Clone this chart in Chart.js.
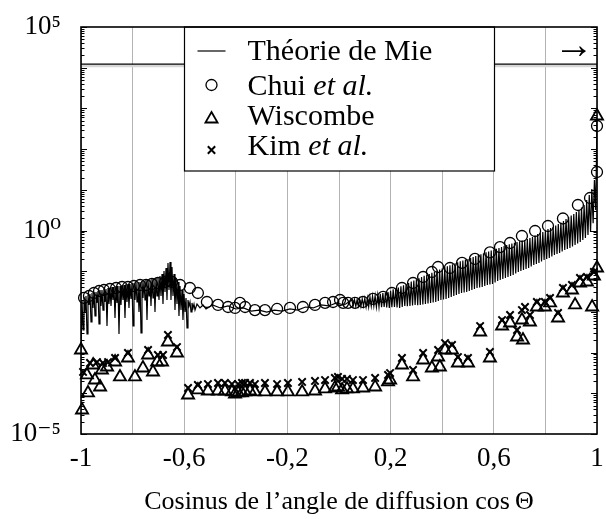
<!DOCTYPE html>
<html><head><meta charset="utf-8">
<script src="https://cdn.jsdelivr.net/npm/chart.js@4.4.1/dist/chart.umd.min.js"></script>
<style>html,body{margin:0;padding:0;background:#fff;}canvas{display:block;}</style>
</head><body>
<canvas id="c" width="606" height="519"></canvas>
<script>
// ---------- axis ticks & labels ----------
const xTickValues = [-1,-0.8,-0.6,-0.4,-0.2,0,0.2,0.4,0.6,0.8,1];
const xLabelValues = [-1,-0.6,-0.2,0.2,0.6,1];
const xLabelTexts = ['-1','-0,6','-0,2','0,2','0,6','1'];
const yLabelValues = [1e-5,1,1e5];
const yLabelTexts = ['10\u207B\u2075','10\u2070','10\u2075'];
const xTitle = 'Cosinus de l\u2019angle de diffusion cos\u2009\u0398';
const seriesLabels = ['Théorie de Mie','Chui et al.','Wiscombe','Kim et al.'];

// ---------- Théorie de Mie ----------
const mieX = [
-1.0000,-0.9961,-0.9922,-0.9884,-0.9845,-0.9806,-0.9767,-0.9729,-0.9690,-0.9651,
-0.9612,-0.9574,-0.9535,-0.9496,-0.9457,-0.9419,-0.9380,-0.9341,-0.9302,-0.9264,
-0.9225,-0.9186,-0.9147,-0.9109,-0.9070,-0.9031,-0.8992,-0.8953,-0.8915,-0.8876,
-0.8837,-0.8798,-0.8760,-0.8721,-0.8682,-0.8643,-0.8605,-0.8566,-0.8527,-0.8488,
-0.8450,-0.8411,-0.8372,-0.8333,-0.8295,-0.8256,-0.8217,-0.8178,-0.8140,-0.8101,
-0.8062,-0.8023,-0.7984,-0.7946,-0.7907,-0.7868,-0.7829,-0.7791,-0.7752,-0.7713,
-0.7674,-0.7636,-0.7597,-0.7558,-0.7519,-0.7481,-0.7442,-0.7403,-0.7364,-0.7326,
-0.7287,-0.7248,-0.7209,-0.7171,-0.7132,-0.7093,-0.7054,-0.7016,-0.6977,-0.6938,
-0.6899,-0.6860,-0.6822,-0.6783,-0.6744,-0.6705,-0.6667,-0.6628,-0.6589,-0.6550,
-0.6512,-0.6473,-0.6434,-0.6395,-0.6357,-0.6318,-0.6279,-0.6240,-0.6202,-0.6163,
-0.6124,-0.6085,-0.6047,-0.6008,-0.5969,-0.5930,-0.5891,-0.5853,-0.5814,-0.5775,
-0.5736,-0.5698,-0.5659,-0.5620,-0.5581,-0.5504,-0.5388,-0.5271,-0.5155,
-0.49,-0.46,-0.43,-0.40,-0.37,-0.34,-0.31,-0.28,-0.25,-0.22,-0.19,-0.16,-0.13,-0.10,-0.07,-0.04,-0.01,0.02,
0.050,0.055,0.060,0.065,0.070,0.075,0.080,0.085,0.090,0.095,
0.100,0.105,0.110,0.115,0.120,0.125,0.130,0.135,0.140,0.145,
0.150,0.155,0.160,0.165,0.170,0.175,0.180,0.185,0.190,0.195,
0.200,0.205,0.210,0.215,0.220,0.225,0.230,0.235,0.240,0.245,
0.250,0.255,0.260,0.265,0.270,0.275,0.280,0.285,0.290,0.295,
0.300,0.305,0.310,0.315,0.320,0.325,0.330,0.335,0.340,0.345,
0.350,0.355,0.360,0.365,0.370,0.375,0.380,0.385,0.390,0.395,
0.400,0.405,0.410,0.415,0.420,0.425,0.430,0.435,0.440,0.445,
0.450,0.455,0.460,0.465,0.470,0.475,0.480,0.485,0.490,0.495,
0.500,0.505,0.510,0.515,0.520,0.525,0.530,0.535,0.540,0.545,
0.550,0.555,0.560,0.565,0.570,0.575,0.580,0.585,0.590,0.595,
0.600,0.605,0.610,0.615,0.620,0.625,0.630,0.635,0.640,0.645,
0.650,0.655,0.660,0.665,0.670,0.675,0.680,0.685,0.690,0.695,
0.700,0.705,0.710,0.715,0.720,0.725,0.730,0.735,0.740,0.745,
0.750,0.755,0.760,0.765,0.770,0.775,0.780,0.785,0.790,0.795,
0.800,0.805,0.810,0.815,0.820,0.825,0.830,0.835,0.840,0.845,
0.850,0.855,0.860,0.865,0.870,0.875,0.880,0.885,0.890,0.895,
0.900,0.905,0.910,0.915,0.920,0.925,0.930,0.935,0.940,0.945,
0.950,0.955,0.960,0.965,0.970,0.975,0.980,0.985,0.990,0.995,
1.000];
const mieY = [
0.00117,0.0196,0.00359,0.0232,0.00995,0.0246,0.00287,0.0260,0.0148,0.0275,
0.00565,0.0291,0.0125,0.0308,0.00793,0.0308,0.0166,0.0326,0.00505,0.0345,
0.0140,0.0345,0.0111,0.0365,0.0175,0.0365,0.00451,0.0387,0.0156,0.0387,
0.0140,0.0409,0.0196,0.0409,0.00709,0.0433,0.0166,0.0433,0.00287,0.0433,
0.0148,0.0458,0.0196,0.0458,0.00709,0.0485,0.0175,0.0485,0.0125,0.0485,
0.0208,0.0513,0.00451,0.0513,0.0196,0.0543,0.0175,0.0543,0.00995,0.0543,
0.00303,0.0574,0.0220,0.0574,0.0196,0.0608,0.00633,0.0608,0.0246,0.0608,
0.0140,0.0643,0.0220,0.0643,0.00995,0.0681,0.0246,0.0681,0.0196,0.0762,
0.0246,0.0853,0.0156,0.101,0.0308,0.120,0.0196,0.159,0.0345,0.168,
0.0196,0.127,0.0246,0.0853,0.0111,0.0681,0.0156,0.0543,0.00793,0.0433,
0.0111,0.0345,0.00633,0.0275,0.00995,0.0220,0.00402,0.0196,0.0140,0.0175,
0.00995,0.0166,0.0125,0.0156,0.0111,0.0156,0.0125,0.0148,0.0118,
0.0148,0.0125,0.0140,0.0118,0.0125,0.0105,0.0111,0.00994,0.0111,0.0105,0.0118,0.0111,0.0132,0.0125,0.0148,0.0140,0.0166,0.0148,
0.0196,0.0140,0.0200,0.0137,0.0196,0.0140,0.0205,0.0136,0.0208,0.0140,
0.0215,0.0133,0.0220,0.0132,0.0235,0.0138,0.0246,0.0140,0.0252,0.0132,
0.0260,0.0132,0.0280,0.0130,0.0291,0.0132,0.0298,0.0128,0.0308,0.0125,
0.0330,0.0130,0.0360,0.0132,0.0375,0.0128,0.0395,0.0125,0.0425,0.0132,
0.0450,0.0140,0.0480,0.0138,0.0515,0.0140,0.0555,0.0144,0.0590,0.0148,
0.0630,0.0146,0.0670,0.0148,0.0720,0.0152,0.0770,0.0156,0.0810,0.0160,
0.0850,0.0165,0.0910,0.0170,0.0970,0.0175,0.104,0.0185,0.110,0.0196,
0.117,0.0202,0.124,0.0208,0.132,0.0220,0.140,0.0232,0.148,0.0246,
0.157,0.0260,0.166,0.0275,0.175,0.0291,0.182,0.0300,0.190,0.0308,
0.200,0.0326,0.211,0.0345,0.223,0.0365,0.236,0.0387,0.250,0.0398,
0.262,0.0409,0.276,0.0433,0.290,0.0458,0.305,0.0471,0.320,0.0485,
0.338,0.0530,0.355,0.0574,0.372,0.0608,0.390,0.0643,0.415,0.0680,
0.440,0.0720,0.460,0.0760,0.480,0.0806,0.500,0.0880,0.520,0.0956,
0.545,0.101,0.570,0.107,0.584,0.113,0.618,0.120,0.654,0.131,
0.692,0.142,0.754,0.150,0.820,0.159,0.868,0.173,0.918,0.188,
1.00,0.199,1.09,0.211,1.15,0.230,1.22,0.250,1.33,0.265,
1.44,0.280,1.57,0.305,1.71,0.332,1.92,0.352,2.15,0.372,
2.34,0.405,2.54,0.440,2.85,0.480,3.19,0.522,3.67,0.585,
4.23,0.654,5.6,0.780,7.45,0.918,10.5,1.5,17.4,3.19,
581];

// ---------- Chui et al. ----------
const chuiX = [-0.988,-0.969,-0.950,-0.930,-0.911,-0.888,-0.864,-0.841,-0.818,-0.795,-0.771,-0.748,-0.725,-0.702,-0.674,-0.647,-0.616,-0.578,-0.547,-0.512,-0.469,-0.430,-0.403,-0.384,-0.364,-0.326,-0.287,-0.240,-0.190,-0.140,-0.093,-0.054,-0.023,0.004,0.016,0.035,0.062,0.093,0.132,0.171,0.205,0.244,0.287,0.326,0.360,0.384,0.430,0.477,0.527,0.585,0.624,0.663,0.709,0.760,0.810,0.868,0.926,0.973,1.0,1.0];
const chuiY = [0.0220,0.0246,0.0291,0.0326,0.0345,0.0365,0.0387,0.0409,0.0409,0.0433,0.0458,0.0458,0.0485,0.0513,0.0543,0.0543,0.0458,0.0387,0.0291,0.0175,0.0148,0.0132,0.0125,0.0166,0.0132,0.0111,0.0111,0.0118,0.0125,0.0132,0.0148,0.0166,0.0175,0.0196,0.0166,0.0166,0.0166,0.0175,0.0208,0.0233,0.0291,0.0387,0.0513,0.0720,0.0956,0.127,0.120,0.160,0.200,0.290,0.390,0.493,0.733,0.972,1.29,1.97,4.23,6.29,27.4,369];

// ---------- Wiscombe ----------
const wiscX = [-1.0,-0.996,-0.977,-0.973,-0.953,-0.946,-0.926,-0.919,-0.899,-0.868,-0.849,-0.818,-0.791,-0.760,-0.740,-0.721,-0.705,-0.686,-0.663,-0.628,
-0.585,-0.547,-0.508,-0.469,-0.442,-0.415,-0.403,-0.391,-0.376,-0.364,-0.345,-0.326,-0.287,-0.240,-0.198,-0.143,-0.093,-0.054,-0.016,-0.004,0.012,0.031,0.054,0.093,0.140,0.190,
0.198,0.244,0.287,0.326,0.360,0.384,0.391,0.411,0.438,0.461,0.500,0.547,0.585,0.632,0.663,0.690,0.709,0.713,0.740,0.767,0.798,0.818,0.849,0.868,0.903,0.915,0.934,0.961,0.981,0.988,1.0,1.0];
const wiscY = [0.00116,0.0000389,0.000282,0.000102,0.000496,0.000212,0.000143,0.000374,0.000443,0.000587,0.000252,0.000737,0.000252,0.000418,0.000873,0.000334,0.000587,0.000587,0.00182,0.000978,
0.0000908,0.000121,0.000114,0.000114,0.000114,0.000108,0.0000961,0.000102,0.000102,0.000108,0.000114,0.000108,0.000108,0.000108,0.000108,0.000108,0.000114,0.000128,0.000135,0.000143,0.000121,0.000128,0.000128,0.000135,0.000143,0.000190,
0.000212,0.000496,0.000252,0.000658,0.000418,0.000779,0.000443,0.00116,0.00116,0.000555,0.000555,0.00321,0.000737,0.0045,0.00534,0.00242,0.00632,0.00204,0.00565,0.0132,0.0132,0.0166,0.00708,0.0291,0.0345,0.0148,0.0513,0.0543,0.0132,0.0762,0.120,650];

// ---------- Kim et al. ----------
const kimX = [-0.992,-0.965,-0.938,-0.915,-0.895,-0.868,-0.818,-0.740,-0.702,-0.682,-0.663,-0.628,
-0.585,-0.547,-0.508,-0.469,-0.442,-0.415,-0.391,-0.376,-0.364,-0.345,-0.326,-0.287,-0.240,-0.198,-0.143,-0.093,-0.054,-0.016,-0.004,0.012,0.031,0.054,0.093,0.140,0.190,
0.198,0.244,0.287,0.326,0.384,0.411,0.438,0.461,0.500,0.547,0.585,0.632,0.663,0.690,0.709,0.721,0.740,0.767,0.798,0.818,0.849,0.868,0.903,0.934,0.961,0.988];
const kimY = [0.000334,0.000555,0.000587,0.000555,0.000587,0.000737,0.000978,0.00116,0.000873,0.000873,0.00271,0.00137,
0.000135,0.000160,0.000169,0.000179,0.000179,0.000169,0.000169,0.000179,0.000179,0.000179,0.000169,0.000179,0.000169,0.000179,0.000190,0.000201,0.000212,0.000238,0.000252,0.000225,0.000225,0.000212,0.000212,0.000238,0.000282,
0.000315,0.000737,0.000374,0.000978,0.00116,0.00172,0.00154,0.000779,0.000737,0.0045,0.00104,0.00632,0.00839,0.00359,0.0111,0.0132,0.00839,0.0175,0.0175,0.0220,0.0094,0.0387,0.0458,0.0681,0.0720,0.0956];

// ---------- top band ----------
const bandValue = 12300;
const bandShadowValue = 11000;

const pts = (xs, ys) => xs.map((x, i) => ({x: x, y: ys[i]}));
const FONT = "'Liberation Serif', 'DejaVu Serif', serif";

const framePlugin = {
  id: 'frame',
  afterDatasetsDraw(chart) {
    const {ctx, chartArea: a, scales} = chart;
    const xs = scales.x, ys = scales.y;
    ctx.save();
    // arrow annotation in the top band
    ctx.fillStyle = '#000';
    ctx.font = '40px ' + FONT;
    ctx.textAlign = 'center';
    ctx.textBaseline = 'middle';
    ctx.fillText('\u2192', xs.getPixelForValue(0.91), ys.getPixelForValue(30500));
    // legend box
    const L = Math.round(xs.getPixelForValue(-0.6)) + 0.5;
    const R = Math.round(xs.getPixelForValue(0.6)) + 0.5;
    const T = a.top, B = a.top + 144;
    ctx.fillStyle = '#fff';
    ctx.fillRect(L, T, R - L, B - T);
    ctx.strokeStyle = '#000';
    ctx.lineWidth = 1.2;
    ctx.strokeRect(L, T, R - L, B - T);
    const baselines = [33, 68, 98, 128];
    const symY = [24, 58, 92, 123];
    const styles = [null, {pointStyle:'circle', radius:5.5, borderWidth:1.3},
                    {pointStyle:'triangle', radius:7, borderWidth:1.8},
                    {pointStyle:'crossRot', radius:5.2, borderWidth:2}];
    for (let i = 0; i < 4; i++) {
      const sx = L + 27, sy = T + symY[i];
      ctx.strokeStyle = '#000';
      ctx.fillStyle = 'rgba(0,0,0,0)';
      if (i === 0) {
        ctx.lineWidth = 1.2;
        ctx.beginPath(); ctx.moveTo(L + 13, sy); ctx.lineTo(L + 41, sy); ctx.stroke();
      } else {
        ctx.lineWidth = styles[i].borderWidth;
        Chart.helpers.drawPoint(ctx, {pointStyle: styles[i].pointStyle, radius: styles[i].radius, rotation: 0, borderWidth: styles[i].borderWidth}, sx, sy);
      }
      const label = seriesLabels[i];
      const parts = label.endsWith(' et al.') ? [[label.slice(0, -6), 'normal'], ['et al.', 'italic']] : [[label, 'normal']];
      let tx = L + 63;
      ctx.fillStyle = '#000';
      ctx.textAlign = 'left';
      ctx.textBaseline = 'alphabetic';
      for (const [txt, st] of parts) {
        ctx.font = st + ' 30px ' + FONT;
        ctx.fillText(txt, tx, T + baselines[i]);
        tx += ctx.measureText(txt).width;
      }
    }
    ctx.restore();
  },
  afterDraw(chart) {
    const {ctx, chartArea: a, scales} = chart;
    const ys = scales.y;
    ctx.save();
    ctx.strokeStyle = '#000';
    ctx.lineWidth = 1;
    for (let e = -5; e <= 5; e++) {
      for (let m = 1; m <= 9; m++) {
        if (e === 5 && m > 1) break;
        const v = m * Math.pow(10, e);
        const p = Math.round(ys.getPixelForValue(v)) + 0.5;
        const len = m === 1 ? 6 : 3.5;
        ctx.beginPath();
        ctx.moveTo(a.left, p); ctx.lineTo(a.left + len, p);
        ctx.moveTo(a.right, p); ctx.lineTo(a.right - len, p);
        ctx.stroke();
      }
    }
    ctx.lineWidth = 1.6;
    ctx.strokeRect(a.left, a.top, a.right - a.left, a.bottom - a.top);
    ctx.restore();
  }
};

new Chart(document.getElementById('c'), {
  type: 'scatter',
  data: {
    datasets: [
      {label: '_shadow', data: [{x:-1, y:bandShadowValue}, {x:1, y:bandShadowValue}], showLine: true, borderColor: '#d6d6d6', borderWidth: 2.5, pointRadius: 0, order: 10},
      {label: '_band', data: [{x:-1, y:bandValue}, {x:1, y:bandValue}], showLine: true, borderColor: '#000', borderWidth: 1.3, pointRadius: 0, order: 9},
      {label: seriesLabels[0], data: pts(mieX, mieY), showLine: true, borderColor: '#000', borderWidth: 1.2, pointRadius: 0, tension: 0, order: 8},
      {label: seriesLabels[1], data: pts(chuiX, chuiY), pointStyle: 'circle', pointRadius: 5.5, borderColor: '#000', backgroundColor: 'rgba(0,0,0,0)', borderWidth: 1.3, clip: false, order: 3},
      {label: seriesLabels[2], data: pts(wiscX, wiscY), pointStyle: 'triangle', pointRadius: 7, borderColor: '#000', backgroundColor: 'rgba(0,0,0,0)', borderWidth: 1.8, clip: false, order: 2},
      {label: seriesLabels[3], data: pts(kimX, kimY), pointStyle: 'crossRot', pointRadius: 5.2, borderColor: '#000', backgroundColor: 'rgba(0,0,0,0)', borderWidth: 2, clip: false, order: 1}
    ]
  },
  options: {
    responsive: false,
    animation: false,
    devicePixelRatio: 1,
    layout: {padding: {left: 0, right: 9, top: 27, bottom: 0}},
    plugins: {legend: {display: false}, tooltip: {enabled: false}},
    scales: {
      x: {
        type: 'linear', min: -1, max: 1,
        afterBuildTicks: s => { s.ticks = xTickValues.map(v => ({value: v})); },
        afterFit: s => { s.height = 85; s.paddingLeft = 0; s.paddingRight = 0; },
        grid: {color: '#b3b3b3', lineWidth: 1, drawTicks: false},
        border: {display: false},
        ticks: {
          autoSkip: false, maxRotation: 0, padding: 9, color: '#000',
          font: {family: FONT, size: 27},
          callback: v => { const i = xLabelValues.findIndex(d => Math.abs(d - v) < 1e-9); return i >= 0 ? xLabelTexts[i] : ''; }
        },
        title: {display: true, text: xTitle, color: '#000', font: {family: FONT, size: 26}, padding: {top: 0, bottom: 1}}
      },
      y: {
        type: 'logarithmic', min: 1e-5, max: 1e5,
        afterBuildTicks: s => { s.ticks = yLabelValues.map(v => ({value: v})); },
        afterFit: s => { s.width = 81; s.paddingTop = 0; s.paddingBottom = 0; },
        grid: {display: false},
        border: {display: false},
        ticks: {
          autoSkip: false, padding: 12, color: '#000',
          font: {family: FONT, size: 27},
          callback: v => { const i = yLabelValues.findIndex(d => Math.abs(Math.log10(d) - Math.log10(v)) < 1e-6); return i >= 0 ? yLabelTexts[i] : ''; }
        }
      }
    }
  },
  plugins: [framePlugin]
});
</script>
</body></html>
